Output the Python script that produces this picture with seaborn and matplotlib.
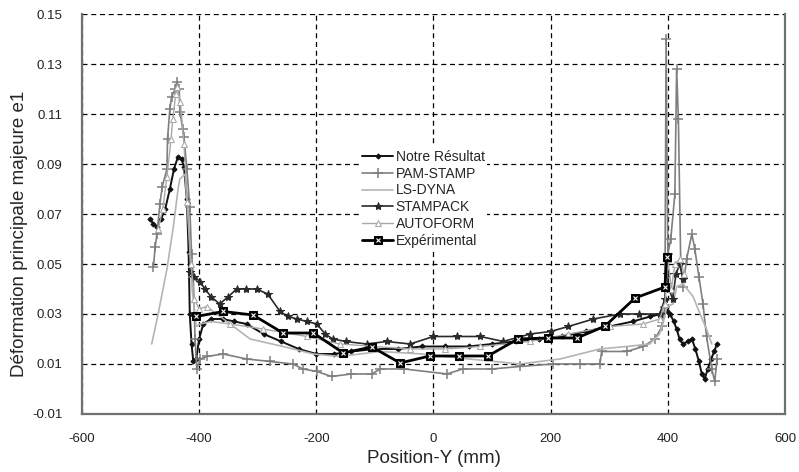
import numpy as np
import pandas as pd
import matplotlib
matplotlib.use("Agg")
import matplotlib.pyplot as plt
import seaborn as sns

# --- data (mm, e1) ---
notre_x = [-484, -478, -472, -465, -458, -450, -443, -436, -430, -426, -421, -418, -416,
           -413, -410, -405, -400, -393, -380, -360, -340, -319, -290, -260, -230, -200,
           -170, -140, -100, -60, -20, 20, 60, 100, 140, 180, 220, 260, 300, 340, 370,
           390, 398, 404, 410, 415, 420, 426, 434, 441, 447, 453, 458, 463, 468, 474,
           479, 484]
notre_y = [0.068, 0.066, 0.065, 0.068, 0.072, 0.080, 0.088, 0.093, 0.092, 0.089, 0.076,
           0.055, 0.030, 0.018, 0.011, 0.012, 0.020, 0.026, 0.028, 0.028, 0.027, 0.026,
           0.022, 0.019, 0.016, 0.014, 0.014, 0.015, 0.016, 0.016, 0.017, 0.017, 0.017,
           0.018, 0.019, 0.020, 0.021, 0.023, 0.025, 0.027, 0.029, 0.030, 0.031, 0.030,
           0.027, 0.024, 0.020, 0.018, 0.019, 0.020, 0.016, 0.011, 0.006, 0.004, 0.008,
           0.012, 0.015, 0.018]

pam_x = [-478, -475, -472, -467, -463, -455, -454, -450, -447, -441, -438, -434, -433,
         -428, -426, -421, -416, -413, -410, -407, -404, -398, -387, -359, -319, -279,
         -240, -223, -199, -174, -140, -105, -91, -50, 23, 50, 100, 148, 204, 250, 284,
         287, 330, 358, 378, 390, 395, 397, 400, 405, 412, 415, 418, 422, 426, 432, 441,
         446, 453, 460, 466, 475, 480, 484]
pam_y = [0.049, 0.057, 0.062, 0.074, 0.081, 0.088, 0.100, 0.112, 0.117, 0.120, 0.123,
         0.120, 0.111, 0.104, 0.101, 0.088, 0.073, 0.054, 0.045, 0.020, 0.008, 0.012,
         0.013, 0.014, 0.012, 0.011, 0.010, 0.008, 0.007, 0.005, 0.006, 0.006, 0.008,
         0.008, 0.006, 0.008, 0.008, 0.009, 0.010, 0.010, 0.010, 0.015, 0.015, 0.017,
         0.020, 0.025, 0.033, 0.140, 0.054, 0.060, 0.078, 0.128, 0.108, 0.050, 0.041,
         0.052, 0.062, 0.056, 0.045, 0.034, 0.021, 0.008, 0.003, 0.012]

lsdyna_x = [-481, -470, -455, -444, -436, -433, -424, -419, -412, -405, -398, -380, -347,
            -313, -257, -205, -160, -91, -20, 60, 148, 216, 284, 330, 369, 386, 395, 398,
            409, 415, 426, 443, 455, 466, 475]
lsdyna_y = [0.018, 0.030, 0.048, 0.065, 0.080, 0.084, 0.086, 0.069, 0.040, 0.025, 0.026,
            0.027, 0.026, 0.020, 0.017, 0.014, 0.013, 0.015, 0.014, 0.012, 0.010, 0.012,
            0.016, 0.017, 0.018, 0.022, 0.029, 0.033, 0.034, 0.041, 0.042, 0.037, 0.030,
            0.024, 0.018]

stampack_x = [-415, -408, -399, -390, -380, -365, -350, -336, -320, -302, -283, -262,
              -248, -233, -216, -199, -185, -172, -150, -114, -80, -40, 0, 40, 80, 119,
              165, 200, 230, 273, 318, 350, 386, 395, 398, 402, 408, 414, 420, 426]
stampack_y = [0.047, 0.045, 0.043, 0.040, 0.037, 0.034, 0.037, 0.040, 0.040, 0.040,
              0.038, 0.031, 0.029, 0.028, 0.027, 0.026, 0.022, 0.020, 0.019, 0.018,
              0.019, 0.018, 0.021, 0.021, 0.021, 0.019, 0.022, 0.023, 0.025, 0.028,
              0.030, 0.030, 0.030, 0.036, 0.046, 0.040, 0.036, 0.046, 0.050, 0.044]

autoform_x = [-470, -462, -455, -448, -445, -440, -438, -432, -426, -420, -414, -408,
              -400, -387, -347, -291, -216, -160, -100, -40, 20, 80, 165, 230, 301, 358,
              386, 395, 400, 406, 412, 420, 428]
autoform_y = [0.064, 0.072, 0.085, 0.100, 0.108, 0.118, 0.121, 0.115, 0.098, 0.075,
              0.050, 0.036, 0.032, 0.033, 0.026, 0.024, 0.021, 0.018, 0.017, 0.016,
              0.016, 0.017, 0.019, 0.022, 0.025, 0.026, 0.028, 0.034, 0.052, 0.040,
              0.050, 0.052, 0.046]

exp_x = [-405, -359, -308, -257, -205, -154, -105, -57, -6, 44, 93, 144, 195, 245, 293,
         344, 395, 398]
exp_y = [0.029, 0.031, 0.0296, 0.0224, 0.0224, 0.0144, 0.0168, 0.0104, 0.0132, 0.0132,
         0.0132, 0.020, 0.0204, 0.0204, 0.0252, 0.0364, 0.0408, 0.053]

x_ticks = [-600, -400, -200, 0, 200, 400, 600]
y_ticks = [-0.01, 0.01, 0.03, 0.05, 0.07, 0.09, 0.11, 0.13, 0.15]

sns.set_style("white")
plt.rcParams['font.family'] = ['Liberation Sans', 'DejaVu Sans']
plt.rcParams['axes.unicode_minus'] = False

fig = plt.figure(figsize=(7.99, 4.72), dpi=100)
ax = fig.add_axes([0.1026, 0.123, 0.8799, 0.847])

series = [
    ("Notre Résultat", notre_x, notre_y, dict(color="#111111", lw=1.4, marker="D", ms=2.6, mfc="#111111", mec="#111111")),
    ("PAM-STAMP", pam_x, pam_y, dict(color="#7f7f7f", lw=1.2, marker="+", ms=7, mew=1.1, mec="#7f7f7f")),
    ("LS-DYNA", lsdyna_x, lsdyna_y, dict(color="#b4b4b4", lw=1.2)),
    ("STAMPACK", stampack_x, stampack_y, dict(color="#2a2a2a", lw=1.2, marker="*", ms=6, mfc="#2a2a2a", mec="#2a2a2a")),
    ("AUTOFORM", autoform_x, autoform_y, dict(color="#a8a8a8", lw=1.0, marker="^", ms=4, mfc="white", mec="#a8a8a8")),
    ("Expérimental", exp_x, exp_y, dict(color="#000000", lw=2.0, marker="s", ms=6, mfc="#000000", mec="#000000")),
]

for name, xs, ys, kw in series:
    df = pd.DataFrame({"x": xs, "y": ys})
    sns.lineplot(data=df, x="x", y="y", ax=ax, sort=False, label=name, **kw)

# white "x" inside the experimental squares
xmark, = ax.plot(exp_x, exp_y, ls="none", marker="x", ms=3, mew=0.8, color="white", zorder=5)

ax.set_xlim(-600, 600)
ax.set_ylim(-0.01, 0.15)
ax.set_xticks(x_ticks)
ax.set_yticks(y_ticks)
ax.set_yticklabels([f"{v:.2f}" for v in y_ticks])
ax.tick_params(length=0, labelsize=9.5, colors="#222222")
ax.tick_params(axis="x", pad=14)
ax.tick_params(axis="y", pad=14)
ax.grid(True, color="black", ls=(0, (4, 3)), lw=0.9)
ax.set_axisbelow(True)
for side in ["left", "bottom", "right"]:
    ax.spines[side].set_color("#707070")
    ax.spines[side].set_linewidth(1.6)
ax.spines["top"].set_visible(False)

ax.set_xlabel("Position-Y (mm)", fontsize=13.5, labelpad=3)
ax.set_ylabel("Déformation principale majeure e1", fontsize=13.5)
ax.yaxis.set_label_coords(-0.077, 0.45)

handles, labels = ax.get_legend_handles_labels()
handles[-1] = (handles[-1], xmark)
leg = ax.legend(handles, labels, loc="upper left", bbox_to_anchor=(0.385, 0.685), fontsize=10,
                frameon=True, facecolor="white", edgecolor="none", framealpha=1,
                handlelength=2.2, handletextpad=0.2, labelspacing=0.2,
                borderpad=0.2, fancybox=False)

fig.savefig("out.png", dpi=100)
